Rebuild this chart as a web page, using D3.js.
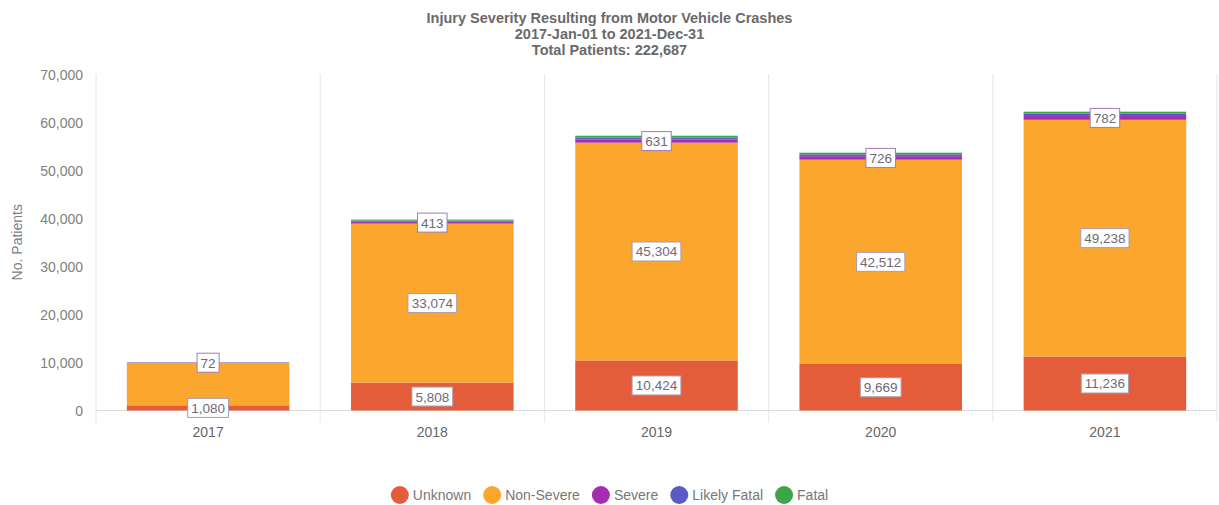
<!DOCTYPE html>
<html>
<head>
  <meta charset="utf-8">
  <script src="https://cdnjs.cloudflare.com/ajax/libs/d3/7.8.5/d3.min.js"></script>
  <title>Injury Severity Resulting from Motor Vehicle Crashes</title>
  <style>
    body {
      margin: 0px;
      background: #fff;
      font-family: "Liberation Sans", Arial, sans-serif;
    }
    .domain {
      display: none;
    }
    .y-axis .tick text {
      fill: #808080;
      font-size: 14px;
      font-family: "Liberation Sans", Arial, sans-serif;
    }
    .x-axis .tick text {
      fill: #666;
      font-size: 14px;
      font-family: "Liberation Sans", Arial, sans-serif;
    }
    .title {
      fill: #6a6a6a;
      font-size: 14.5px;
      font-weight: bold;
    }
  </style>
</head>
<body>
  <svg width="1219" height="505"></svg>
  <script>

    // data
    const years = ['2017', '2018', '2019', '2020', '2021'];
    const seriesNames = ['Unknown', 'Non-Severe', 'Severe', 'Likely Fatal', 'Fatal'];
    const unknown = [1080, 5808, 10424, 9669, 11236];
    const nonSevere = [8828, 33074, 45304, 42512, 49238];
    const severe = [72, 413, 631, 726, 782];
    const likelyFatal = [20, 200, 420, 380, 480];
    const fatal = [30, 220, 380, 340, 420];
    const yTicks = [0, 10000, 20000, 30000, 40000, 50000, 60000, 70000];
    const titleLines = [
      'Injury Severity Resulting from Motor Vehicle Crashes',
      '2017-Jan-01 to 2021-Dec-31',
      'Total Patients: 222,687'
    ];

    const colors = ['#e45d3a', '#fba72e', '#a52cb5', '#5a5ac4', '#3aa648'];
    const labelled = [true, true, true, false, false];

    const svg = d3.select('svg');
    const width = +svg.attr('width');
    const margin = { left: 96, right: 2, top: 74, bottom: 94.5 };
    const innerWidth = width - margin.left - margin.right;
    const innerHeight = 505 - margin.top - margin.bottom;

    const g = svg.append('g')
      .attr('transform', `translate(${margin.left},${margin.top})`);

    // build table for stack
    const allSeries = [unknown, nonSevere, severe, likelyFatal, fatal];
    const table = years.map((y, i) => {
      const row = { year: y };
      seriesNames.forEach((s, j) => row[s] = allSeries[j][i]);
      return row;
    });
    const stacked = d3.stack().keys(seriesNames)(table);

    const xScale = d3.scaleBand().domain(years).range([0, innerWidth]).padding(0);
    const yScale = d3.scaleLinear().domain([0, 70000]).range([innerHeight, 0]);

    // vertical grid lines at category boundaries
    const bounds = years.map(y => xScale(y)).concat([innerWidth]);
    g.selectAll('.vgrid').data(bounds)
      .enter().append('line')
      .attr('class', 'vgrid')
      .attr('x1', d => d).attr('x2', d => d)
      .attr('y1', 0).attr('y2', innerHeight + 12)
      .attr('stroke', '#e6e6e6');

    // y axis
    const yAxisG = g.append('g').attr('class', 'y-axis')
      .call(d3.axisLeft(yScale).tickValues(yTicks).tickSize(0).tickPadding(13)
        .tickFormat(d3.format(',')));
    yAxisG.selectAll('.tick line').remove();
    yAxisG.selectAll('.tick text').attr('dy', null).attr('y', 5);

    // baseline
    g.append('line')
      .attr('x1', 0).attr('x2', innerWidth)
      .attr('y1', yScale(0)).attr('y2', yScale(0))
      .attr('stroke', '#dcdcdc');

    // x axis
    const xAxisG = g.append('g').attr('class', 'x-axis')
      .attr('transform', `translate(0,${innerHeight})`)
      .call(d3.axisBottom(xScale).tickSize(0));
    xAxisG.selectAll('.tick line').remove();
    xAxisG.selectAll('.tick text').attr('dy', null).attr('y', 26);

    // bars
    const barW = xScale.bandwidth() * 0.725;
    const layers = g.selectAll('.layer').data(stacked)
      .enter().append('g')
      .attr('class', 'layer')
      .attr('fill', (d, i) => colors[i]);

    layers.selectAll('rect').data(d => d)
      .enter().append('rect')
      .attr('x', d => xScale(d.data.year) + (xScale.bandwidth() - barW) / 2)
      .attr('y', d => yScale(d[1]))
      .attr('width', barW)
      .attr('height', d => yScale(d[0]) - yScale(d[1]));

    // data labels, hide those that collide
    const placed = [];
    const order = [0, 2, 1];
    const fmt = d3.format(',');
    order.forEach(si => {
      if (!labelled[si]) return;
      stacked[si].forEach(d => {
        const cx = xScale(d.data.year) + xScale.bandwidth() / 2;
        const cy = (yScale(d[0]) + yScale(d[1])) / 2;
        const lg = g.append('g').attr('transform', `translate(${cx},${cy})`);
        const t = lg.append('text')
          .attr('text-anchor', 'middle')
          .attr('y', 5)
          .attr('fill', '#6e6a78')
          .style('font-size', '13.5px')
          .text(fmt(d[1] - d[0]));
        const bb = t.node().getBBox();
        const w = bb.width + 7, h = 19;
        const box = { x0: cx - w / 2, x1: cx + w / 2, y0: cy - h / 2, y1: cy + h / 2 };
        const hit = placed.some(p => box.x0 < p.x1 && box.x1 > p.x0 &&
          box.y0 < p.y1 + 5 && box.y1 + 5 > p.y0);
        if (hit) { lg.remove(); return; }
        placed.push(box);
        lg.insert('rect', 'text')
          .attr('x', -w / 2).attr('y', -h / 2)
          .attr('width', w).attr('height', h)
          .attr('fill', '#fff')
          .attr('stroke', si === 2 ? '#a27ab8' : '#a89bb0')
          .attr('stroke-width', 1);
      });
    });

    // y axis label
    svg.append('text')
      .attr('transform', `translate(22,${margin.top + innerHeight / 2}) rotate(-90)`)
      .attr('text-anchor', 'middle')
      .attr('fill', '#808080')
      .style('font-size', '14px')
      .text('No. Patients');

    // title
    svg.selectAll('.title').data(titleLines)
      .enter().append('text')
      .attr('class', 'title')
      .attr('x', width / 2)
      .attr('y', (d, i) => 23 + i * 16)
      .attr('text-anchor', 'middle')
      .text(d => d);

    // legend
    const legend = svg.append('g');
    let lx = 0;
    seriesNames.forEach((s, i) => {
      legend.append('circle')
        .attr('cx', lx + 9).attr('cy', 0).attr('r', 9)
        .attr('fill', colors[i]);
      const t = legend.append('text')
        .attr('x', lx + 22).attr('y', 5)
        .attr('fill', '#777')
        .style('font-size', '14px')
        .text(s);
      lx += 22 + t.node().getComputedTextLength() + 12;
    });
    lx -= 12;
    legend.attr('transform', `translate(${(width - lx) / 2},495)`);

  </script>
</body>
</html>
